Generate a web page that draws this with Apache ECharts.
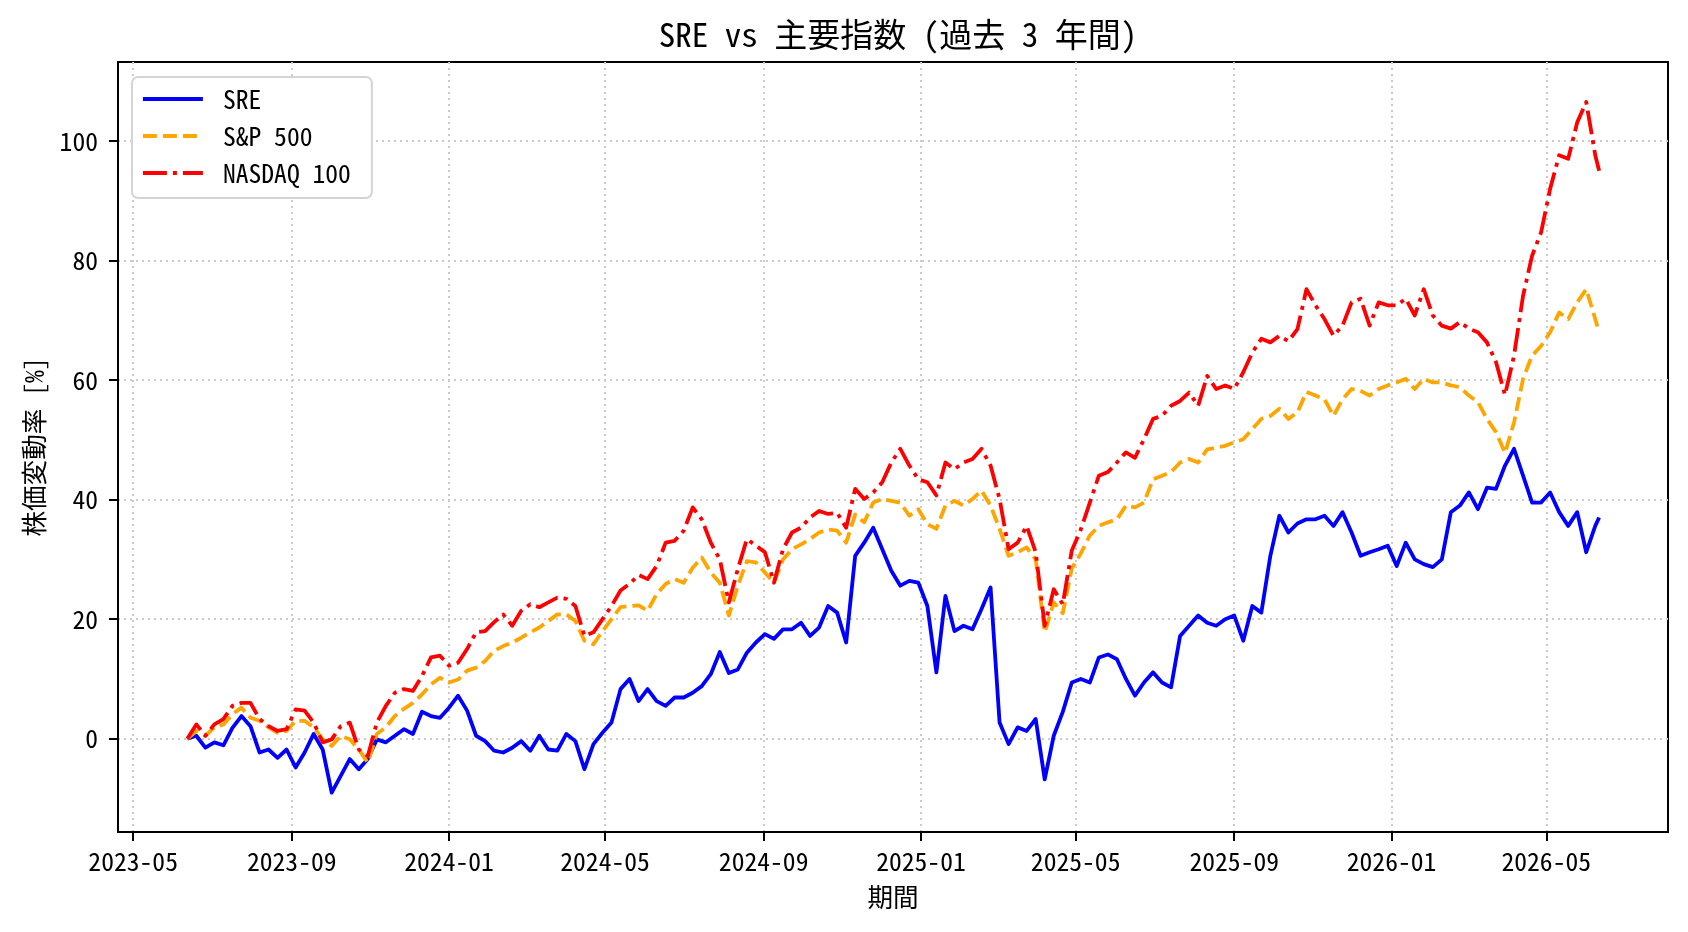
<!DOCTYPE html>
<html>
<head>
<meta charset="utf-8">
<script src="https://cdn.jsdelivr.net/npm/echarts@6/dist/echarts.min.js"></script>
<style>
html,body{margin:0;padding:0;background:#ffffff;}
#chart{width:1688px;height:932px;}
</style>
</head>
<body>
<div id="chart"></div>
<script>
// ---- data (weekly readings, % change since start) ----
const dates = [
'2023-06-12','2023-06-19','2023-06-26','2023-07-03','2023-07-10','2023-07-17','2023-07-24','2023-07-31','2023-08-07','2023-08-14',
'2023-08-21','2023-08-28','2023-09-04','2023-09-11','2023-09-18','2023-09-25','2023-10-02','2023-10-09','2023-10-16','2023-10-23',
'2023-10-30','2023-11-06','2023-11-13','2023-11-20','2023-11-27','2023-12-04','2023-12-11','2023-12-18','2023-12-25','2024-01-01',
'2024-01-08','2024-01-15','2024-01-22','2024-01-29','2024-02-05','2024-02-12','2024-02-19','2024-02-26','2024-03-04','2024-03-11',
'2024-03-18','2024-03-25','2024-04-01','2024-04-08','2024-04-15','2024-04-22','2024-04-29','2024-05-06','2024-05-13','2024-05-20',
'2024-05-27','2024-06-03','2024-06-10','2024-06-17','2024-06-24','2024-07-01','2024-07-08','2024-07-15','2024-07-22','2024-07-29',
'2024-08-05','2024-08-12','2024-08-19','2024-08-26','2024-09-02','2024-09-09','2024-09-16','2024-09-23','2024-09-30','2024-10-07',
'2024-10-14','2024-10-21','2024-10-28','2024-11-04','2024-11-11','2024-11-18','2024-11-25','2024-12-02','2024-12-09','2024-12-16',
'2024-12-23','2024-12-30','2025-01-06','2025-01-13','2025-01-20','2025-01-27','2025-02-03','2025-02-10','2025-02-17','2025-02-24',
'2025-03-03','2025-03-10','2025-03-17','2025-03-24','2025-03-31','2025-04-07','2025-04-14','2025-04-21','2025-04-28','2025-05-05',
'2025-05-12','2025-05-19','2025-05-26','2025-06-02','2025-06-09','2025-06-16','2025-06-23','2025-06-30','2025-07-07','2025-07-14',
'2025-07-21','2025-07-28','2025-08-04','2025-08-11','2025-08-18','2025-08-25','2025-09-01','2025-09-08','2025-09-15','2025-09-22',
'2025-09-29','2025-10-06','2025-10-13','2025-10-20','2025-10-27','2025-11-03','2025-11-10','2025-11-17','2025-11-24','2025-12-01',
'2025-12-08','2025-12-15','2025-12-22','2025-12-29','2026-01-05','2026-01-12','2026-01-19','2026-01-26','2026-02-02','2026-02-09',
'2026-02-16','2026-02-23','2026-03-02','2026-03-09','2026-03-16','2026-03-23','2026-03-30','2026-04-06','2026-04-13','2026-04-20',
'2026-04-27','2026-05-04','2026-05-11','2026-05-18','2026-05-25','2026-06-01','2026-06-08','2026-06-11'
];

const sre = [
0, 0.5, -1.5, -0.6, -1.1, 1.8, 3.8, 2.1, -2.3, -1.8,
-3.2, -1.8, -4.8, -2.3, 0.8, -1.8, -9.0, -6.2, -3.4, -5.1,
-3.4, -0.1, -0.6, 0.5, 1.6, 0.8, 4.5, 3.8, 3.5, 5.2,
7.2, 4.7, 0.5, -0.4, -2.0, -2.3, -1.5, -0.4, -2.0, 0.5,
-1.8, -2.0, 0.8, -0.4, -5.1, -0.9, 1.0, 2.7, 8.3, 10.0,
6.3, 8.3, 6.3, 5.5, 6.9, 6.9, 7.7, 8.8, 10.8, 14.5,
11.0, 11.6, 14.4, 16.1, 17.5, 16.7, 18.3, 18.3, 19.4, 17.2,
18.6, 22.2, 21.1, 16.1, 30.6, 32.8, 35.3, 31.7, 28.1, 25.6,
26.4, 26.1, 22.2, 11.1, 23.9, 18.0, 18.9, 18.3, 21.7, 25.3,
2.7, -0.9, 1.9, 1.3, 3.3, -6.8, 0.5, 4.5, 9.4, 10.0,
9.4, 13.6, 14.1, 13.3, 10.0, 7.2, 9.4, 11.1, 9.4, 8.6,
17.2, 18.9, 20.6, 19.4, 18.9, 20.0, 20.6, 16.4, 22.2, 21.1,
30.6, 37.3, 34.5, 36.0, 36.7, 36.7, 37.3, 35.6, 37.9, 34.5,
30.6, 31.2, 31.7, 32.3, 28.9, 32.8, 30.0, 29.2, 28.7, 30.0,
37.9, 39.0, 41.2, 38.4, 42.0, 41.8, 45.7, 48.5, 44.0, 39.5,
39.5, 41.2, 37.9, 35.6, 37.9, 31.2, 35.6, 37.0
];

const sp500 = [
0, 1.3, 0.5, 1.9, 2.4, 4.1, 5.2, 3.5, 3.0, 1.9,
1.0, 1.3, 3.0, 3.0, 1.9, -0.1, -1.2, 0.5, -0.1, -1.8,
-4.0, 0.8, 1.9, 3.8, 5.0, 6.0, 7.4, 9.1, 10.2, 9.4,
9.9, 11.4, 11.9, 13.0, 14.7, 15.5, 16.1, 16.9, 17.8, 18.6,
19.7, 20.8, 20.8, 19.7, 16.4, 15.8, 18.0, 20.0, 22.0, 22.2,
22.3, 21.4, 24.2, 25.9, 26.7, 26.1, 28.6, 30.3, 27.8, 26.1,
20.6, 25.6, 29.7, 29.5, 27.8, 26.1, 30.0, 31.7, 32.5, 33.4,
34.5, 35.0, 34.8, 32.8, 37.5, 36.2, 39.5, 40.1, 39.8, 39.5,
37.3, 38.4, 35.9, 35.1, 39.0, 39.8, 39.0, 40.1, 41.5, 39.0,
35.1, 30.6, 31.2, 32.0, 30.0, 17.8, 22.8, 21.0, 28.5, 31.0,
34.0, 35.6, 36.2, 36.7, 39.0, 38.7, 39.5, 43.4, 44.0, 44.6,
46.2, 46.8, 46.2, 48.4, 48.7, 49.0, 49.6, 50.1, 51.8, 53.5,
54.0, 55.2, 53.5, 54.6, 58.0, 57.4, 56.8, 54.0, 56.8, 58.5,
58.2, 57.4, 58.5, 59.1, 59.6, 60.2, 58.5, 60.2, 59.6, 59.6,
59.1, 58.8, 57.4, 56.3, 53.5, 51.3, 47.8, 52.9, 60.2, 64.1,
65.7, 68.0, 71.3, 70.2, 73.0, 75.2, 70.2, 68.0
];

const nasdaq100 = [
0, 2.4, 0.5, 2.4, 3.3, 5.5, 6.0, 6.0, 3.3, 2.1,
1.3, 1.6, 4.9, 4.7, 2.7, -0.6, -0.1, 2.1, 2.7, -1.8,
-2.9, 2.7, 5.5, 7.7, 8.3, 8.0, 10.5, 13.6, 13.9, 12.2,
12.7, 15.0, 17.8, 18.0, 19.5, 20.8, 18.9, 21.4, 22.5, 22.0,
22.8, 23.6, 23.4, 22.2, 17.2, 17.8, 20.0, 22.2, 24.8, 25.9,
27.4, 26.7, 28.9, 32.8, 33.1, 34.8, 38.7, 36.7, 32.8, 30.0,
22.8, 28.4, 33.4, 32.3, 31.2, 26.1, 31.7, 34.5, 35.3, 37.0,
38.1, 37.6, 37.8, 35.3, 41.8, 40.1, 41.2, 42.9, 46.2, 48.5,
45.7, 43.4, 42.9, 40.7, 46.2, 45.1, 46.2, 46.8, 48.5, 45.7,
40.1, 31.7, 32.8, 35.6, 31.2, 18.9, 25.0, 22.5, 31.5, 35.0,
39.5, 44.0, 44.6, 46.2, 47.9, 47.0, 50.1, 53.5, 54.0, 55.7,
56.5, 57.9, 55.7, 60.7, 58.5, 59.1, 58.5, 61.3, 64.6, 66.9,
66.3, 67.4, 66.5, 68.5, 75.2, 72.5, 70.2, 67.4, 69.1, 73.0,
73.6, 69.1, 73.0, 72.5, 72.5, 73.6, 70.8, 75.2, 70.8, 69.1,
68.6, 69.7, 68.6, 68.0, 66.3, 63.0, 57.5, 64.1, 74.1, 80.8,
84.7, 92.0, 97.6, 97.0, 103.1, 106.5, 97.6, 95.0
];

const seriesNames = ['SRE', 'S&P 500', 'NASDAQ 100'];
const xTickLabels = ['2023-05','2023-09','2024-01','2024-05','2024-09','2025-01','2025-05','2025-09','2026-01','2026-05'];
const yTickValues = [0, 20, 40, 60, 80, 100];

// ---- helpers ----
const FONT = '"Noto Sans Mono CJK JP", "Noto Sans CJK JP", sans-serif';
function toTs(s) {
  const p = s.split('-').map(Number);
  return new Date(p[0], p[1] - 1, p[2] || 1).getTime();
}
const xTickValues = xTickLabels.map(toTs);
const xMin = new Date(2023, 3, 19, 6).getTime();
const xMax = new Date(2026, 7, 3, 10).getTime();

function pairs(vals) { return dates.map((d, i) => [toTs(d), vals[i]]); }

const gridLine = { show: true, lineStyle: { color: '#cbcbcb', width: 2, type: [2, 4] } };
const txt = { color: '#000', fontFamily: FONT, fontSize: 25.6 };

const chart = echarts.init(document.getElementById('chart'), null, { renderer: 'canvas' });
chart.setOption({
  animation: false,
  backgroundColor: '#ffffff',
  title: {
    text: 'SRE vs 主要指数 (過去 3 年間)',
    left: 893, textAlign: 'center', top: 13,
    textStyle: { color: '#000', fontFamily: FONT, fontSize: 33, fontWeight: 'normal' }
  },
  legend: {
    data: seriesNames,
    orient: 'vertical', left: 132, top: 77,
    itemWidth: 60, itemHeight: 14, itemGap: 11,
    padding: [9, 21, 12, 9],
    backgroundColor: '#ffffff', borderColor: '#d4d4d4', borderWidth: 2, borderRadius: 6,
    selectedMode: false,
    itemStyle: { opacity: 0, borderWidth: 0 },
    lineStyle: { width: 3.8 },
    textStyle: Object.assign({ lineHeight: 26, padding: [0, 0, 0, 15] }, txt)
  },
  grid: {
    left: 118, top: 62, width: 1550, height: 770,
    show: true, borderColor: '#000', borderWidth: 2, backgroundColor: 'transparent'
  },
  xAxis: {
    type: 'value', min: xMin, max: xMax, scale: true,
    name: '期間', nameLocation: 'middle', nameGap: 52,
    nameTextStyle: txt,
    axisLine: { show: true, onZero: false, lineStyle: { color: '#000', width: 2 } },
    axisTick: { show: true, length: 9, lineStyle: { color: '#000', width: 2 }, customValues: xTickValues },
    axisLabel: Object.assign({
      customValues: xTickValues, margin: 16, hideOverlap: false,
      formatter: function (v) {
        let best = 0;
        for (let i = 1; i < xTickValues.length; i++) {
          if (Math.abs(xTickValues[i] - v) < Math.abs(xTickValues[best] - v)) best = i;
        }
        return xTickLabels[best];
      }
    }, txt),
    splitLine: gridLine,
    minorTick: { show: false }
  },
  yAxis: {
    type: 'value', min: -15.6, max: 113.2,
    name: '株価変動率 [%]', nameLocation: 'middle', nameGap: 71, nameRotate: 90,
    nameTextStyle: txt,
    axisLine: { show: true, onZero: false, lineStyle: { color: '#000', width: 2 } },
    axisTick: { show: true, length: 9, lineStyle: { color: '#000', width: 2 }, customValues: yTickValues },
    axisLabel: Object.assign({ customValues: yTickValues, margin: 20 }, txt),
    splitLine: gridLine
  },
  series: [
    {
      name: seriesNames[0], type: 'line', data: pairs(sre),
      symbol: 'none', showSymbol: false, smooth: false,
      itemStyle: { color: '#0000ff' },
      lineStyle: { color: '#0000ff', width: 3.8, type: 'solid', join: 'round' },
      emphasis: { disabled: true }, z: 2
    },
    {
      name: seriesNames[1], type: 'line', data: pairs(sp500),
      symbol: 'none', showSymbol: false, smooth: false,
      itemStyle: { color: '#ffa500' },
      lineStyle: { color: '#ffa500', width: 3.8, type: [14, 6], join: 'round' },
      emphasis: { disabled: true }, z: 3
    },
    {
      name: seriesNames[2], type: 'line', data: pairs(nasdaq100),
      symbol: 'none', showSymbol: false, smooth: false,
      itemStyle: { color: '#ff0000' },
      lineStyle: { color: '#ff0000', width: 3.8, type: [24, 6, 4, 6], join: 'round' },
      emphasis: { disabled: true }, z: 4
    }
  ]
});
</script>
</body>
</html>
